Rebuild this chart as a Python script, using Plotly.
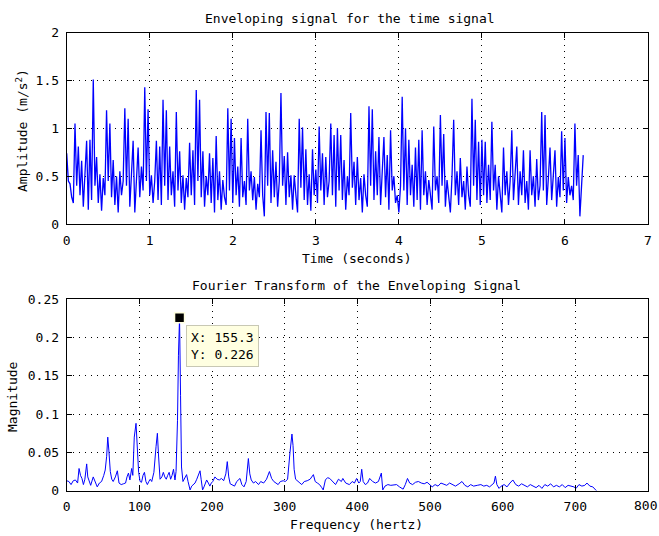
import plotly.graph_objects as go

# ---------------- data: enveloping time signal (sampled every 0.02 s) ----------------
dt = 0.02
env_sec0 = [0.74, 0.45, 0.42, 0.28, 0.22, 1.05, 0.40, 0.81, 0.30, 0.66,
            0.18, 0.50, 0.87, 0.15, 0.88, 0.25, 1.51, 0.40, 0.70, 0.22,
            0.52, 0.14, 0.48, 0.30, 1.19, 0.45, 1.05, 0.28, 0.67, 0.20,
            0.50, 0.12, 0.55, 0.30, 0.45, 1.21, 0.40, 1.10, 0.18, 0.52,
            0.87, 0.12, 0.55, 0.80, 0.28, 0.60, 0.35, 1.43, 0.45, 1.20]
env_sec1 = [0.30, 0.51, 0.22, 0.45, 0.87, 0.25, 0.81, 0.20, 1.30, 0.40,
            1.19, 0.25, 0.81, 0.30, 0.55, 0.18, 1.17, 0.35, 0.76, 0.22,
            0.51, 0.15, 0.48, 0.28, 0.85, 0.30, 0.77, 0.20, 1.40, 0.45,
            1.30, 0.28, 0.76, 0.18, 0.50, 0.30, 0.74, 0.22, 0.69, 0.12,
            0.92, 0.25, 0.55, 0.15, 0.46, 0.28, 0.20, 1.21, 0.35, 1.10]
env_sec2 = [0.22, 0.90, 0.30, 0.60, 0.18, 0.90, 0.28, 0.45, 0.20, 1.10,
            0.35, 0.55, 0.25, 0.49, 0.15, 0.42, 0.28, 0.98, 0.30, 0.08,
            1.17, 0.40, 1.16, 0.22, 0.77, 0.28, 0.65, 0.18, 0.45, 1.37,
            0.40, 0.71, 0.20, 0.75, 0.28, 0.51, 0.15, 0.51, 0.30, 0.12,
            1.10, 0.38, 1.01, 0.25, 0.78, 0.20, 0.52, 0.14, 0.78, 0.30]
env_sec3 = [0.57, 0.22, 1.02, 0.35, 0.74, 0.20, 0.70, 0.28, 0.45, 1.05,
            0.30, 0.93, 0.18, 1.00, 0.35, 0.93, 0.25, 0.67, 0.15, 0.50,
            0.30, 1.16, 0.38, 0.65, 0.20, 0.70, 0.25, 0.48, 0.12, 0.52,
            0.30, 0.18, 1.23, 0.40, 1.20, 0.25, 0.76, 0.30, 0.91, 0.20,
            0.55, 0.91, 0.28, 0.72, 0.15, 0.98, 0.35, 0.50, 0.22, 0.30]
env_sec4 = [0.12, 0.40, 1.33, 0.35, 1.00, 0.20, 0.88, 0.30, 0.62, 0.18,
            0.80, 0.25, 0.88, 0.15, 0.98, 0.30, 0.55, 0.20, 0.46, 0.28,
            0.15, 1.02, 0.35, 0.50, 0.22, 1.14, 0.40, 0.94, 0.18, 0.46,
            0.28, 0.12, 0.50, 1.09, 0.30, 0.55, 0.20, 0.69, 0.28, 0.45,
            0.15, 0.60, 0.30, 0.18, 1.31, 0.40, 1.09, 0.25, 0.86, 0.20]
env_sec5 = [0.88, 0.30, 0.86, 0.22, 0.62, 0.25, 1.07, 0.35, 0.62, 0.15,
            0.50, 0.28, 0.12, 0.80, 0.30, 0.55, 0.20, 0.45, 0.98, 0.25,
            0.60, 0.81, 0.20, 0.55, 0.30, 0.77, 0.22, 0.45, 0.15, 0.77,
            0.30, 0.50, 0.18, 0.68, 0.25, 0.40, 1.17, 0.35, 1.14, 0.20,
            0.48, 0.80, 0.25, 0.55, 0.77, 0.18, 0.49, 0.28, 0.97, 0.35]
env_sec6 = [0.90, 0.22, 0.49, 0.30, 0.40, 0.25, 1.05, 0.40, 0.72, 0.08,
            0.45, 0.72]

# ---------------- data: Fourier transform of the envelope ----------------
fft_freq = [0, 3, 6, 9, 12, 15, 17, 19, 21, 23, 25, 27.5, 29, 31, 33, 36.5, 39, 42, 45, 48,
            51, 53, 55, 56.5, 58, 60, 62, 64, 67, 69.7, 72, 75, 78, 81, 83, 85, 87, 89.4, 91, 93,
            95.4, 97, 99, 101, 103, 105, 107, 109, 111, 113, 115, 117, 120, 123, 124.8, 126.5,
            128.5, 131, 133, 135, 137, 139, 141, 143, 145, 147, 149, 150.5, 152.5, 153.8, 155.3,
            156.7, 158, 160, 162, 165, 167, 169.8, 172, 174, 176.6, 179, 181, 183.5, 185, 187,
            189, 192.6, 195, 197, 199, 201, 204, 207, 210, 213, 216, 219, 221, 223, 225, 228,
            231, 234, 238.5, 241, 244, 247, 250, 252, 254, 257, 260, 264, 267, 271, 275, 279,
            282, 285, 288, 291, 294, 298, 301, 304, 307.3, 310, 311.5, 313, 315, 318, 321,
            323.5, 327, 331, 335, 339.5, 342, 345, 348, 351, 353, 356, 359, 362, 366, 370, 374,
            378, 380, 384, 389, 393, 396, 399, 402, 404, 406, 408, 411, 414, 417, 421, 425, 429,
            433, 435, 438, 442, 446, 450, 454, 458, 463, 466, 469, 472, 476, 480, 484, 488, 492,
            496, 500, 503, 507, 511, 515, 519, 523, 527, 531, 535, 540, 544, 548, 552, 556, 560,
            565, 570, 574, 578, 582, 586, 588, 590, 592, 595, 598, 602, 606, 610, 614, 618, 622,
            626, 630, 634, 638, 642, 646, 650, 654, 658, 662, 666, 670, 674, 678, 682, 686, 690,
            694, 698, 701, 705, 709, 713, 716, 720, 724, 727, 729]
fft_mag = [0.013, 0.012, 0.008, 0.013, 0.014, 0.010, 0.029, 0.020, 0.016, 0.008, 0.015, 0.035,
           0.018, 0.012, 0.007, 0.018, 0.012, 0.005, 0.010, 0.012, 0.020, 0.027, 0.045, 0.070,
           0.053, 0.025, 0.015, 0.012, 0.018, 0.026, 0.010, 0.008, 0.009, 0.010, 0.018, 0.023,
           0.014, 0.029, 0.020, 0.070, 0.088, 0.062, 0.024, 0.012, 0.011, 0.020, 0.024, 0.012,
           0.008, 0.012, 0.015, 0.012, 0.024, 0.058, 0.075, 0.044, 0.015, 0.018, 0.024, 0.018,
           0.015, 0.020, 0.024, 0.015, 0.020, 0.028, 0.014, 0.025, 0.092, 0.177, 0.226, 0.124,
           0.031, 0.012, 0.015, 0.021, 0.012, 0.001, 0.006, 0.008, 0.010, 0.015, 0.020, 0.026,
           0.015, 0.001, 0.005, 0.014, 0.010, 0.006, 0.010, 0.012, 0.018, 0.015, 0.014, 0.016,
           0.013, 0.022, 0.038, 0.018, 0.009, 0.008, 0.006, 0.012, 0.016, 0.008, 0.005, 0.012,
           0.042, 0.022, 0.014, 0.010, 0.012, 0.008, 0.012, 0.010, 0.015, 0.025, 0.016, 0.012,
           0.010, 0.008, 0.012, 0.013, 0.012, 0.015, 0.050, 0.074, 0.059, 0.028, 0.015, 0.012,
           0.010, 0.008, 0.012, 0.013, 0.015, 0.021, 0.012, 0.010, 0.008, 0.004, 0.001, 0.014,
           0.017, 0.016, 0.012, 0.008, 0.015, 0.012, 0.016, 0.010, 0.008, 0.012, 0.010, 0.016,
           0.010, 0.012, 0.028, 0.012, 0.008, 0.010, 0.016, 0.012, 0.010, 0.012, 0.023, 0.001,
           0.006, 0.008, 0.007, 0.008, 0.008, 0.005, 0.002, 0.008, 0.016, 0.010, 0.008, 0.011,
           0.012, 0.010, 0.009, 0.011, 0.008, 0.005, 0.008, 0.006, 0.010, 0.009, 0.007, 0.010,
           0.008, 0.006, 0.009, 0.012, 0.007, 0.005, 0.008, 0.006, 0.007, 0.008, 0.006, 0.007,
           0.005, 0.008, 0.010, 0.019, 0.008, 0.003, 0.006, 0.008, 0.005, 0.010, 0.014, 0.008,
           0.006, 0.009, 0.007, 0.005, 0.008, 0.006, 0.004, 0.007, 0.003, 0.008, 0.006, 0.009,
           0.005, 0.007, 0.005, 0.008, 0.004, 0.007, 0.006, 0.005, 0.003, 0.008, 0.006, 0.007,
           0.010, 0.006, 0.005, 0.002, 0.000]

# data tip (peak)
peak_freq = 155.3
peak_mag = 0.226

top_title = "Enveloping signal for the time signal"
top_xlabel = "Time (seconds)"
top_ylabel = "Amplitude (m/s<sup>2</sup>)"
bot_title = "Fourier Transform of the Enveloping Signal"
bot_xlabel = "Frequency (hertz)"
bot_ylabel = "Magnitude"
freq_ticks = [0, 100, 200, 300, 400, 500, 600, 700, 800]

# ---------------- build ----------------
env_vals = env_sec0 + env_sec1 + env_sec2 + env_sec3 + env_sec4 + env_sec5 + env_sec6
env_time = [round(i * dt, 4) for i in range(len(env_vals))]

FONT = "DejaVu Sans Mono"
W, H = 659, 536
BLUE = "#0000ff"

fig = go.Figure()
fig.add_trace(go.Scatter(x=env_time, y=env_vals, mode="lines",
                         line=dict(color=BLUE, width=1.3), xaxis="x", yaxis="y",
                         showlegend=False, hoverinfo="skip"))
fig.add_trace(go.Scatter(x=fft_freq, y=fft_mag, mode="lines",
                         line=dict(color=BLUE, width=1), xaxis="x2", yaxis="y2",
                         showlegend=False, hoverinfo="skip"))
fig.add_trace(go.Scatter(x=[peak_freq], y=[peak_mag], mode="markers",
                         marker=dict(symbol="square", size=10, color="black",
                                     line=dict(color="#ffffe1", width=1.5)),
                         xaxis="x2", yaxis="y2", showlegend=False, hoverinfo="skip",
                         cliponaxis=False))

# pixel-based domains
xl, xr = 66.7 / W, 648 / W
top_dom = [1 - 224 / H, 1 - 32.7 / H]
bot_dom = [1 - 490.7 / H, 1 - 299.3 / H]

axis_common = dict(showline=True, linecolor="black", linewidth=1, mirror="allticks",
                   ticks="inside", ticklen=5, tickcolor="black",
                   showgrid=True, gridcolor="black", griddash="1px,5px", gridwidth=1,
                   zeroline=False, tickfont=dict(family=FONT, size=13, color="black"),
                   fixedrange=True, automargin=False)

fig.update_layout(
    width=W, height=H,
    margin=dict(l=0, r=0, t=0, b=0, pad=0, autoexpand=False),
    paper_bgcolor="white", plot_bgcolor="white",
    font=dict(family=FONT, size=13, color="black"),
    xaxis=dict(domain=[xl, xr], range=[0, 7], dtick=1, tick0=0, anchor="y",
               ticklabelstandoff=4, **axis_common),
    yaxis=dict(domain=top_dom, range=[0, 2], dtick=0.5, tick0=0, anchor="x",
               ticklabelstandoff=4, **axis_common),
    xaxis2=dict(domain=[xl, xr], range=[0, 800], tickvals=freq_ticks[:-1], anchor="y2",
                ticklabelstandoff=4, **axis_common),
    yaxis2=dict(domain=bot_dom, range=[0, 0.25], dtick=0.05, tick0=0, anchor="x2",
                ticklabelstandoff=4, **axis_common),
)

def px_ann(text, x, y, angle=0):
    return dict(text=text, x=x / W, y=1 - y / H, xref="paper", yref="paper",
                showarrow=False, textangle=angle, xanchor="center", yanchor="middle",
                font=dict(family=FONT, size=13, color="black"))

anns = [
    px_ann(top_title, 350, 18),
    px_ann(top_xlabel, 357, 258),
    px_ann(top_ylabel, 22, 131, -90),
    px_ann(bot_title, 357, 285),
    px_ann(bot_xlabel, 357, 524),
    px_ann(bot_ylabel, 13, 397, -90),
    # last frequency tick label (would overflow the page edge as a regular tick label)
    dict(text=str(freq_ticks[-1]), x=1, y=1 - 505 / H, xref="paper", yref="paper",
         showarrow=False, xanchor="right", yanchor="middle",
         font=dict(family=FONT, size=13, color="black")),
    dict(text=f"X: {peak_freq}<br>Y: {peak_mag}", x=peak_freq, y=peak_mag,
         xref="x2", yref="y2", showarrow=False, xanchor="left", yanchor="top",
         xshift=6, yshift=-7, align="left", bgcolor="#ffffe1",
         bordercolor="#c8c8b4", borderwidth=1, borderpad=4,
         font=dict(family=FONT, size=13, color="black")),
]
fig.update_layout(annotations=anns)

fig.write_html("out.html", config={"displayModeBar": False})
